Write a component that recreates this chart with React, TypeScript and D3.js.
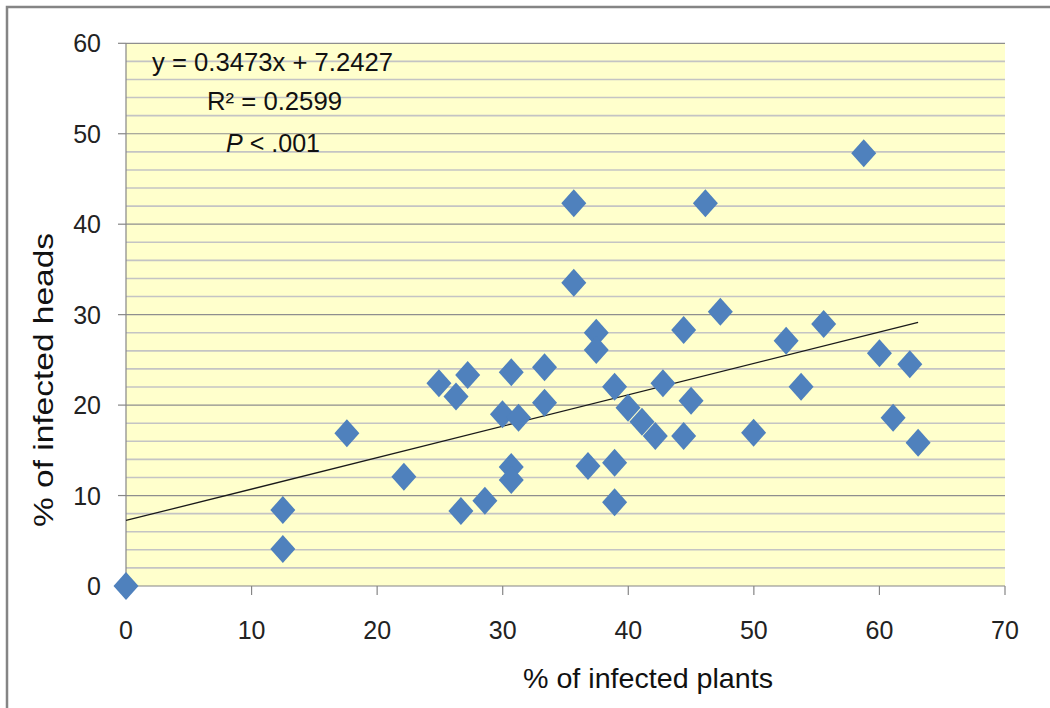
import React from "react";
import * as d3 from "d3";

const plantsPct = [0, 12.49, 12.49, 17.59, 22.13, 24.92, 26.28, 27.21, 26.67, 28.58, 29.98, 30.68, 31.26, 30.68, 30.68, 33.33, 33.33, 35.66, 35.66, 37.45, 37.45, 36.79, 38.91, 38.91, 38.91, 39.98, 41.09, 42.15, 42.76, 44.41, 44.41, 45.0, 46.14, 47.33, 49.98, 52.57, 53.76, 55.56, 58.75, 60.0, 61.09, 62.42, 63.08];
const headsPct = [0, 8.4, 4.09, 16.88, 12.08, 22.41, 20.95, 23.33, 8.29, 9.43, 18.99, 23.63, 18.6, 13.16, 11.72, 24.18, 20.27, 42.31, 33.53, 28.0, 26.09, 13.27, 22.03, 13.63, 9.25, 19.71, 18.16, 16.58, 22.41, 28.3, 16.58, 20.49, 42.31, 30.33, 16.95, 27.12, 22.03, 28.97, 47.84, 25.73, 18.61, 24.51, 15.84];
const xTicks = [0, 10, 20, 30, 40, 50, 60, 70];
const yTicks = [0, 10, 20, 30, 40, 50, 60];
const slope = 0.3473;
const intercept = 7.2427;
const eqLines = ["y = 0.3473x + 7.2427", "R² = 0.2599", "< .001"];

export default function App() {
  const W = 1050, H = 708;
  const left = 126, right = 1005, top = 43.3, bottom = 586;
  const x = d3.scaleLinear().domain([0, 70]).range([left, right]);
  const y = d3.scaleLinear().domain([0, 60]).range([bottom, top]);
  const minor = d3.range(0, 61, 2).filter((v) => v % 10 !== 0);
  const xMax = d3.max(plantsPct) as number;
  const diamond = (cx: number, cy: number) =>
    `M${cx},${cy - 14}L${cx + 12.5},${cy}L${cx},${cy + 14}L${cx - 12.5},${cy}Z`;
  const font = "'Liberation Sans', Arial, sans-serif";
  return (
    <svg width={W} height={H} style={{ position: "absolute", left: 0, top: 0 }}>
      <rect x={0} y={0} width={W} height={H} fill="#ffffff" />
      <rect x={7} y={7} width={W + 20} height={H + 20} fill="none" stroke="#858585" strokeWidth={2.5} />
      <rect x={left} y={top} width={right - left} height={bottom - top} fill="#FFFFCC" />
      {minor.map((v) => (
        <line key={"m" + v} x1={left} x2={right} y1={y(v)} y2={y(v)} stroke="#C4C4C4" strokeWidth={1.6} />
      ))}
      {yTicks.filter((v) => v > 0).map((v) => (
        <line key={"M" + v} x1={left} x2={right} y1={y(v)} y2={y(v)} stroke="#8E8E8E" strokeWidth={1.2} />
      ))}
      <line x1={left} x2={left} y1={top} y2={bottom} stroke="#868686" strokeWidth={1.2} />
      <line x1={left} x2={right} y1={bottom} y2={bottom} stroke="#868686" strokeWidth={1.2} />
      {yTicks.map((v) => (
        <g key={"yt" + v}>
          <line x1={left - 8} x2={left} y1={y(v)} y2={y(v)} stroke="#868686" strokeWidth={1.2} />
          <text x={101} y={y(v)} dy="0.36em" textAnchor="end" fontFamily={font} fontSize={25} fill="#222">{v}</text>
        </g>
      ))}
      {xTicks.map((v) => (
        <g key={"xt" + v}>
          <line x1={x(v)} x2={x(v)} y1={bottom} y2={bottom + 9} stroke="#868686" strokeWidth={1.2} />
          <text x={x(v)} y={630} dy="0.36em" textAnchor="middle" fontFamily={font} fontSize={25} fill="#222">{v}</text>
        </g>
      ))}
      <line x1={x(0)} y1={y(intercept)} x2={x(xMax)} y2={y(slope * xMax + intercept)} stroke="#1a1a1a" strokeWidth={1.3} />
      {plantsPct.map((p, i) => (
        <path key={"d" + i} d={diamond(x(p), y(headsPct[i]))} fill="#4F81BD" />
      ))}
      <text x={152} y={62} dy="0.36em" fontFamily={font} fontSize={25} fill="#111" textLength={241} lengthAdjust="spacingAndGlyphs">{eqLines[0]}</text>
      <text x={207} y={101} dy="0.36em" fontFamily={font} fontSize={25} fill="#111" textLength={135} lengthAdjust="spacingAndGlyphs">{eqLines[1]}</text>
      <text x={226} y={143} dy="0.36em" fontFamily={font} fontSize={25} fill="#111" textLength={94} lengthAdjust="spacingAndGlyphs">
        <tspan fontStyle="italic">P</tspan>
        <tspan> {eqLines[2]}</tspan>
      </text>
      <text x={648} y={688} textAnchor="middle" fontFamily={font} fontSize={28} fill="#111" textLength={250} lengthAdjust="spacingAndGlyphs">% of infected plants</text>
      <text transform="translate(53,380) rotate(-90)" textAnchor="middle" fontFamily={font} fontSize={28} fill="#111" textLength={294} lengthAdjust="spacingAndGlyphs">% of infected heads</text>
    </svg>
  );
}
